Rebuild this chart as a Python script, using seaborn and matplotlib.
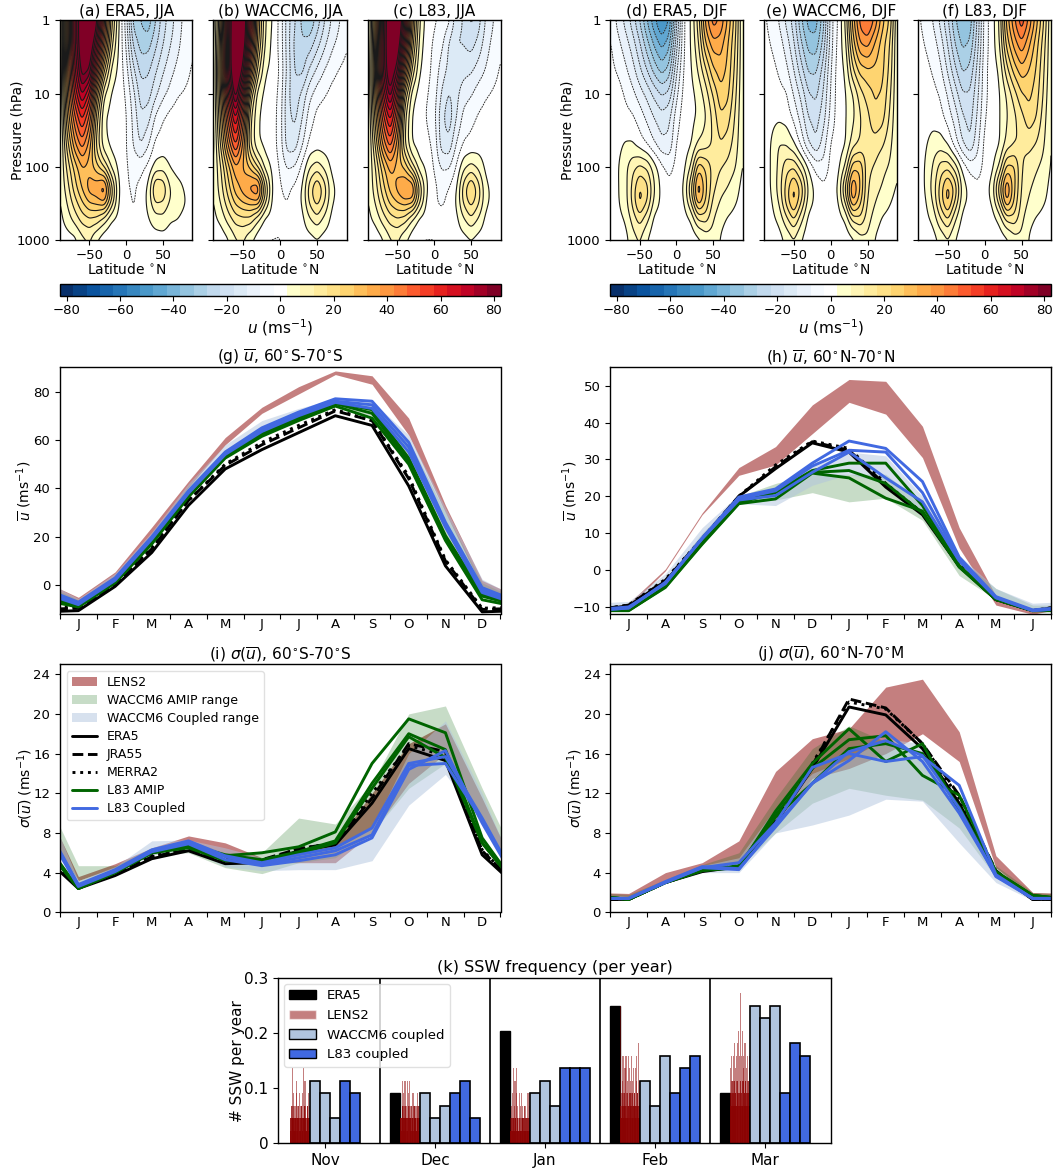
import numpy as np
import matplotlib
matplotlib.use("Agg")
import matplotlib.pyplot as plt
from matplotlib.colors import ListedColormap, BoundaryNorm
from matplotlib.patches import Patch
from matplotlib.cm import ScalarMappable
import seaborn as sns

W, H = 1057, 1169

# ---------- zonal wind tables (rows: pressure, columns: latitude) ----------
lats = [-90,-80,-70,-60,-50,-40,-30,-20,-10,0,10,20,30,40,50,60,70,80,90]
plevs = [1,2,5,10,20,50,100,200,300,500,1000]

era5_jja = [
[0,38,72,92,105,85,50,20,3,-10,-30,-33,-36,-28,-20,-15,-10,-6,-3],
[0,38,72,92,95,72,42,15,2,-8,-24,-30,-30,-24,-18,-13,-9,-5,-3],
[0,36,66,86,82,50,22,6,1,-5,-16,-24,-23,-18,-13,-9,-6,-4,-2],
[0,33,58,74,62,30,8,2,0,-3,-11,-20,-20,-14,-9,-6,-3,-2,-1],
[0,28,47,60,47,20,3,1,0,-2,-9,-17,-15,-7,-3,-1,0,0,0],
[0,20,36,45,35,15,4,1,0,-2,-8,-13,-8,-1,0,0,0,0,0],
[2,14,24,32,30,24,16,6,1,-2,-4,-4,-1,4,5,2,0,0,0],
[3,10,20,28,36,38,45,22,3,-2,-3,-1,4,20,18,8,5,2,0],
[2,8,15,22,28,30,33,17,2,-1,-3,-1,4,13,12,7,5,3,1],
[1,5,10,15,17,16,10,3,1,0,-2,0,2,5,6,3,2.5,1,0],
[0,0,0,5,7,1,-2,-3,-3,-2,-1,0,0,0,0,0,0,0,0]]
waccm_jja = [
[-2,25,70,100,95,62,28,8,2,-4,-15,-22,-29,-32,-26,-18,-12,-8,-4],
[-1,28,72,100,92,58,25,7,1,-4,-15,-24,-27,-26,-20,-14,-9,-6,-3],
[0,30,72,98,80,42,15,3,1,-3,-14,-23,-24,-16,-11,-7,-4,-2,-1],
[0,28,62,88,62,22,5,1,0,-4,-16,-21,-16,-9,-5,-3,-1,0,0],
[0,24,50,70,47,14,3,1,0,-5,-16,-19,-13,-5,-1,0,0,0,0],
[0,18,38,54,36,12,3,1,0,-5,-15,-15,-8,-1,0,0,0,0,0],
[2,12,25,36,32,26,16,5,1,-3,-8,-7,-1,7,10,6,1,0,0],
[3,10,20,30,36,42,46,20,2,-2,-3,-1,3,16,24,16,4,1,0],
[2,8,16,24,28,30,32,14,1,-2,-3,0,3,14,20,13,3,1,0],
[1,4,10,15,16,16,8,1,0,-1,0,0,1,7,11,6,1,0,0],
[0,-1,1,6,7,2,-1,-3,-3,-3,0,0,0,0,1,0,0,0,0]]
l83_jja = [
[-2,28,70,95,100,70,32,8,0,-2,-3,-6,-15,-18,-24,-20,-12,-8,-3],
[-1,30,72,95,93,60,26,6,-1,-3,-6,-13,-18,-18,-20,-16,-10,-6,-3],
[0,32,72,92,78,42,16,3,-1,-4,-10,-14,-15,-14,-13,-10,-7,-4,-2],
[0,30,62,82,60,22,5,0,-2,-5,-13,-18,-14,-10,-8,-5,-3,-2,-1],
[0,25,50,66,46,14,2,0,-3,-6,-16,-21,-13,-6,-4,-2,-1,0,0],
[0,18,38,50,35,12,2,0,-1,-4,-15,-16,-7,-2,-1,0,0,0,0],
[2,12,25,34,30,26,14,4,1,-3,-8,-8,-2,6,9,6,1,0,0],
[3,10,20,29,35,41,42,18,3,-1,-4,-2,2,16,25,16,4,1,0],
[2,8,16,24,28,31,30,14,1,-2,-4,-1,3,14,20,14,4,1,0],
[1,4,10,15,17,15,7,1,0,0,0,0,1,7,12,7,1,0,0],
[0,-1,1,6,7,2,-1,-3,-3,-3,0,0,0,0,1,0,0,0,0]]
era5_djf = [
[-4,-9,-14,-20,-28,-38,-47,-54,-48,-24,-3,3,15,35,46,42,32,20,2],
[-2,-6,-10,-15,-22,-31,-39,-45,-40,-20,-3,3,12,28,36,35,28,18,3],
[-1,-3,-6,-10,-16,-22,-29,-34,-30,-13,-2,2,8,16,26,30,26,16,3],
[0,0,-3,-6,-10,-14,-19,-23,-21,-9,-1,1,4,10,18,26,24,14,3],
[0,0,-1,-2,-5,-9,-13,-16,-14,-5,0,1,3,7,14,22,20,12,3],
[0,1,3,3,0,-3,-7,-11,-11,-2,0,2,8,10,13,17,15,10,3],
[0,2,6,11,14,12,5,-1,-4,-1,1,8,26,22,16,13,11,8,2],
[0,2,5,14,24,20,8,1,-1,0,3,18,38,24,14,9,7,4,1],
[0,2,5,14,25,18,6,1,0,0,2,13,32,22,11,7,5,3,1],
[0,1,3,9,15,9,1,0,0,0,0,3,13,15,8,4,2,1,0],
[0,0,0,5,7,2,-1,-1,-1,-1,-3,-1,0,3,5,2,0,0,0]]
waccm_djf = [
[-2,-4,-8,-14,-20,-32,-40,-40,-30,-10,-2,8,30,45,50,42,30,22,3],
[-1,-3,-5,-10,-17,-27,-35,-36,-26,-10,-1,6,25,38,40,32,25,18,3],
[0,-1,-3,-6,-12,-20,-28,-28,-20,-8,0,3,16,24,26,26,24,16,3],
[0,0,-1,-2,-8,-14,-22,-24,-17,-7,0,2,7,15,20,23,22,14,3],
[0,1,1,0,-4,-10,-18,-20,-15,-6,0,2,6,12,16,22,20,12,3],
[0,3,8,7,3,-4,-12,-17,-10,-2,0,2,10,13,15,15,13,9,3],
[0,3,9,16,17,10,2,-4,-6,-1,1,8,26,27,14,12,9,7,3],
[0,3,10,20,30,22,7,1,-1,0,3,20,40,28,13,9,7,4,2],
[0,2,8,20,30,18,5,1,0,0,2,13,34,24,12,8,5,3,1],
[0,1,4,11,18,9,1,0,0,0,0,3,14,17,10,5,2,1,0],
[0,-1,0,3,6,2,-1,-2,-1,-2,-2,-1,0,4,6,2,0,0,0]]
l83_djf = [
[-2,-4,-8,-14,-22,-32,-38,-36,-22,-5,0,8,30,42,52,42,30,18,3],
[-1,-3,-5,-10,-18,-28,-34,-32,-20,-5,0,7,25,35,42,34,25,15,3],
[0,-1,-3,-6,-13,-21,-28,-26,-16,-4,0,3,15,24,30,27,22,13,3],
[0,0,-1,-3,-8,-15,-22,-22,-14,-4,0,2,8,15,22,24,20,12,2],
[0,0,0,-1,-5,-10,-17,-20,-12,-3,0,2,7,11,16,21,18,10,2],
[0,2,5,5,2,-5,-12,-17,-9,-1,0,2,9,12,13,14,12,8,2],
[0,3,8,15,16,10,1,-4,-5,-1,1,8,24,24,13,10,8,6,2],
[0,3,10,20,31,22,6,1,-1,0,5,22,40,24,12,8,6,4,1],
[0,2,8,20,30,17,4,1,0,0,3,15,34,22,11,7,5,3,1],
[0,1,4,12,18,8,1,0,0,0,0,4,14,16,9,4,2,1,0],
[0,-1,0,3,6,2,-1,-2,-3,-1,-2,-1,0,4,6,2,0,0,0]]

# ---------- seasonal cycles ----------
months_sh = list("JFMAMJJASOND")
months_nh = list("JASONDJFMAMJ")

g_lens_lo = [-7,3,21,40.5,58,71,79,87,83,62,30,-1]
g_lens_hi = [-5,5.5,24,43,61,73.5,82,88.5,86.5,69,33,2]
g_amip_lo = [-8,1.5,18,38,54,63,69,74,70,49,20,-5]
g_amip_hi = [-6,4,21,41,56,65,72,76,74,60,30,1]
g_coup_lo = [-7,2,20,39,54,63,69,75,72,57,25,-3]
g_coup_hi = [-5.5,5,22,42,58,68,73,77,76,62,32,2.5]
g_era5 = [-10.5,-0.5,13.5,33,48,56,63,70,66,41,8,-11]
g_jra55 = [-9.5,0,15,35,49.5,58,65,72,68,44,10,-10]
g_merra2 = [-9,0.5,15.5,35,50,59,66,72.5,68,45,10.5,-9.5]
g_l83amip = [[-9,1,17,36.5,52.5,61.5,68,74,69,50,18.5,-6],
             [-8.5,1.2,17.5,37,53,62,69,75,71,51,19.5,-4.5],
             [-8.5,1.3,18,37.5,53.5,62.5,69.5,75.5,72.5,52.5,20.5,-3.5]]
g_l83coup = [[-8,2,19,38,54,63.5,70,75.5,73,55,24,-3],
             [-7.5,2.5,19.5,38.5,54.5,64,71,76,74.5,57,25,-2],
             [-7,3,20,39,55,65,71.5,77,76,59,26,-1]]

h_lens_lo = [-10,-0.2,15,25.7,28.5,37,45.5,42.3,30.5,6,-9.5,-12]
h_lens_hi = [-9,0.3,15.5,27.8,33.5,44.8,51.7,51.2,39,11.5,-7,-11.3]
h_amip_lo = [-11,-5,7,18,19,21,18.5,19.5,13.5,-1.5,-8,-11.5]
h_amip_hi = [-9.5,-2.5,10,20,23.5,26,26,26,18,3,-5,-9.5]
h_coup_lo = [-10.5,-3.5,8,18,17.5,23,26,23.5,15,1,-7.5,-11]
h_coup_hi = [-8.5,-1,11.5,20.5,22,28,32,31,20,4,-5,-9]
h_era5 = [-9.7,-3,8,20,27.5,34.5,32,22.5,15,1,-8,-11]
h_jra55 = [-9.5,-2.8,8.5,20,28,34.8,32.5,23,15.5,1.2,-8,-11]
h_merra2 = [-9.5,-2.5,8.5,20,28.5,35,33,23.5,15.5,1.5,-8,-11]
h_l83amip = [[-11,-4.7,7,18,19.3,26.3,25,19.5,16,0.8,-8,-11],
             [-11,-4.5,7.2,18.2,21,26.5,27,23.5,15.5,1,-8,-11],
             [-10.5,-4.2,7.5,18.3,21.3,27,29,29,17.5,1.2,-7.8,-11]]
h_l83coup = [[-10.3,-3.3,8.5,19,20.2,26.5,32,25,18.5,2.5,-7.5,-11],
             [-10.3,-3.5,8.5,19.3,21.5,28.2,32.5,32,21,3,-7.5,-11],
             [-10,-3.7,8.7,19.8,22,29,35,33,24,3.5,-7.2,-10.8]]

i_lens_lo = [3.2,4.5,6.2,7,5.8,5,5,5,8,13,16,9]
i_lens_hi = [3.6,4.9,6.5,7.7,7,5.5,6,7,12,17,19,11.5]
i_amip_lo = [2.6,4,5.8,6,4.5,3.9,5,5.5,8,12.5,15,9.5]
i_amip_hi = [4.7,4.7,6.5,7.3,6,6,9.5,8.9,13,20,20.8,12.5]
i_coup_lo = [2.4,3.8,5.8,6.3,4.6,4.2,4.3,4.3,5.2,10.8,13.9,9]
i_coup_hi = [3.2,4.6,7.2,7.3,6.5,5.5,6,6.5,8.5,16,19.3,12]
i_era5 = [2.4,3.7,5.4,6.2,4.9,5,6.2,6.8,11,16.5,15.3,5.8]
i_jra55 = [2.5,3.8,5.6,6.3,5.2,5.3,6.4,7,11.5,17,16.2,6.2]
i_merra2 = [2.5,3.9,5.7,6.3,5.3,5.2,6.4,7,12,16.8,15.8,6.3]
i_l83amip = [[2.4,4,6,6.6,5.7,6,6.6,8.1,15,19.5,18.1,7.5],
             [2.4,4,6,6.8,5.8,5.3,6.1,7.2,13,18,16.4,7],
             [2.4,4,6,6.5,5.2,5.2,5.9,7,12.5,17.7,15.6,7]]
i_l83coup = [[2.6,4.1,6.1,6.9,5.3,4.7,5.2,5.8,7.5,14.4,16.3,9],
             [2.7,4.2,6.2,7,5.6,4.8,5.5,6.2,7.8,14.8,15,9.3],
             [2.8,4.3,6.3,7.2,5.7,5,5.8,6.5,8.5,15,15.7,9.5]]

j_lens_lo = [1.5,3,4.3,5,9,13.5,14.5,16,18,15.2,4.5,1.5]
j_lens_hi = [1.9,4,5,7.2,14.2,17.5,18.5,22.7,23.5,18.2,5.7,2]
j_amip_lo = [1.2,3,4.2,4.5,8,11,12.5,11.8,11.3,8.5,3.5,1.3]
j_amip_hi = [1.8,3.3,4.8,6,11.5,16.5,18.8,17.2,15.5,11,4.7,2]
j_coup_lo = [1.2,2.9,4,4,8,8.8,9.8,11.4,11.2,7,3,1.2]
j_coup_hi = [1.6,3.3,4.7,5.5,10.5,14,15.5,17.5,17,11,4.2,1.8]
j_era5 = [1.3,3,4.1,4.6,9,14.5,20.7,19.9,16.5,11,4,1.3]
j_jra55 = [1.3,3,4.2,4.6,9.2,14.8,21.5,20.6,17,11.8,4.2,1.3]
j_merra2 = [1.3,3,4.2,4.7,9.2,15,21.2,20.5,17,11.5,4.1,1.3]
j_l83amip = [[1.3,3,4.2,4.5,10.2,15,18.5,15.2,17,10.2,4.1,1.7],
             [1.3,3,4.2,4.7,9.8,14.5,17.4,17.8,13.8,11.8,4.1,1.7],
             [1.3,3,4.3,4.6,9.6,13,16.5,17,16,10.6,4,1.7]]
j_l83coup = [[1.4,3,4.5,4.3,8.8,13,15.3,18.2,15.2,10,3.7,1.4],
             [1.4,3,4.5,5,9,14.6,16,15.2,15.7,12.8,3.8,1.4],
             [1.4,3.1,4.6,4.4,8.6,13,16.2,17.3,15.8,10.5,3.6,1.4]]

# ---------- SSW frequency ----------
ssw_months = ["Nov","Dec","Jan","Feb","Mar"]
ssw_era5 = [0,0.0909,0.2045,0.25,0.0909]
ssw_waccm = [[0.1136,0.0909,0.0455],[0.0909,0.0455,0.0682],[0.0909,0.1136,0.0682],
             [0.1136,0.0682,0.1591],[0.25,0.2273,0.25]]
ssw_l83 = [[0.1136,0.0909,0],[0.0909,0.1136,0.0455],[0.1364,0.1364,0.1364],
           [0.0909,0.1364,0.1591],[0.0909,0.1818,0.1591]]
per_event = 1/44
# LENS2 members, counted in events: the taller spikes, then the dense lower ones
lens_nov = [1,2,3,6,2,4,3,2,1,2,4,5,2,3,2,4,2,1,3,3,2,4,6,2,3,5,3,1,2,2,3,4,2,3]
lens_dec = [2,1,2,3,5,2,4,3,5,2,1,3,5,2,4,3,5,3,2,1,4,2,3,4,2,3,2,1,3,2,4,3,2,3]
lens_jan = [1,2,3,2,4,6,2,3,5,2,4,6,3,2,1,4,2,3,1,4,2,3,1,2,3,3,1,2,1,4,2,4,4,3]
lens_feb = [3,11,2,5,7,3,7,4,6,7,3,7,5,4,7,3,6,5,4,7,5,4,3,6,4,3,6,5,7,4,3,8,5,4]
lens_mar = [4,6,7,5,4,7,5,8,4,6,7,5,4,8,9,4,7,12,4,7,9,5,6,7,4,8,5,6,4,7,5,4,6,7]
lens_nov_low = [2,1,2,3,2,2,1,2,3,2,2,1,2,2,3,2,1,2,2,3,2,1,2,2,3,2,2,1,2,3,2,2,1,2]
lens_dec_low = [2,2,1,2,3,2,1,2,2,3,2,2,1,2,3,2,2,2,1,3,2,2,1,2,3,2,2,1,2,2,3,2,1,2]
lens_jan_low = [1,1,2,1,1,2,1,1,2,2,1,1,2,1,1,2,1,1,2,1,1,2,2,1,1,2,1,2,1,1,2,1,2,1]
lens_feb_low = [2,3,2,4,3,2,4,3,2,3,2,4,2,3,3,2,4,3,2,3,4,2,3,2,4,3,2,3,2,4,3,2,3,2]
lens_mar_low = [3,4,3,5,3,4,3,5,3,4,3,3,5,4,3,4,3,5,3,4,3,3,5,3,4,3,5,3,4,3,4,5,3,3]
lens_all = [lens_nov,lens_dec,lens_jan,lens_feb,lens_mar]
lens_low = [lens_nov_low,lens_dec_low,lens_jan_low,lens_feb_low,lens_mar_low]

# ---------- helpers ----------
sns.set_style("ticks")
plt.rcParams.update({"font.family":"DejaVu Sans","font.size":10,"axes.titlesize":11.1,
                     "axes.labelsize":10,"axes.linewidth":1,
                     "xtick.direction":"out","ytick.direction":"out",
                     "xtick.major.size":3.5,"ytick.major.size":3.5,
                     "xtick.major.width":0.8,"ytick.major.width":0.8,
                     "xtick.labelsize":9.5,"ytick.labelsize":9.5,
                     "xtick.color":"black","ytick.color":"black","text.color":"black",
                     "axes.labelcolor":"black","axes.edgecolor":"black",
                     "mathtext.default":"it"})
fig = plt.figure(figsize=(W/100, H/100), dpi=100, facecolor="white")

def box(l, t, r, b):
    return fig.add_axes([l/W, 1-b/H, (r-l)/W, (b-t)/H])

bins = np.arange(-82.5, 83, 5)
cols = [plt.cm.Blues_r(i/15) for i in range(16)] + [(1,1,1,1)] + [plt.cm.YlOrRd(i/15) for i in range(16)]
cmap = ListedColormap(cols)
cmap.set_over(plt.cm.YlOrRd(1.0)); cmap.set_under(plt.cm.Blues(1.0))
norm = BoundaryNorm(bins, cmap.N)

def smooth1(a, n, axis):
    k = np.ones(n)/n
    pad = [(0,0),(0,0)]; pad[axis] = (n//2, n//2)
    b = np.pad(a, pad, mode="edge")
    return np.apply_along_axis(lambda v: np.convolve(v, k, mode="valid"), axis, b)

def refine(table):
    t = np.array(table, float)
    la = np.linspace(-90, 90, 181)
    lp = np.linspace(0, 3, 121)
    lp0 = np.log10(plevs)
    a = np.array([np.interp(la, lats, row) for row in t])
    a = np.array([np.interp(lp, lp0, a[:, j]) for j in range(a.shape[1])]).T
    for _ in range(2):
        a = smooth1(a, 5, 1)
        a = smooth1(a, 9, 0)
    return la, 10**lp, a

def wind_panel(rect, table, title, ylab):
    ax = box(*rect)
    la, pp, f = refine(table)
    ax.contourf(la, pp, f, levels=bins, cmap=cmap, norm=norm, extend="both")
    lv = bins
    ax.contour(la, pp, f, levels=lv[lv < 0], colors="0.15", linewidths=0.65, linestyles=[(0,(2,1))])
    ax.contour(la, pp, f, levels=lv[lv > 0], colors="0.1", linewidths=0.8, linestyles="solid")
    ax.set_yscale("log")
    ax.set_ylim(1000, 1); ax.set_xlim(-90, 90)
    ax.set_xticks([-50, 0, 50]); ax.set_xlabel(r"Latitude $^{\circ}$N", labelpad=-0.5)
    ax.tick_params(axis="x", pad=3)
    ax.set_yticks([1,10,100,1000]); ax.minorticks_off()
    if ylab:
        ax.set_yticklabels(["1","10","100","1000"]); ax.set_ylabel("Pressure (hPa)")
        ax.yaxis.set_label_coords(-36/(rect[2]-rect[0]), 0.5)
    else:
        ax.set_yticklabels([])
    ax.set_title(title, pad=3)

t, b = 20.3, 240.3
wind_panel((60,t,192.3,b), era5_jja, "(a) ERA5, JJA", True)
wind_panel((213.3,t,346.7,b), waccm_jja, "(b) WACCM6, JJA", False)
wind_panel((368,t,500.5,b), l83_jja, "(c) L83, JJA", False)
wind_panel((610.3,t,742.5,b), era5_djf, "(d) ERA5, DJF", True)
wind_panel((764.3,t,897,b), waccm_djf, "(e) WACCM6, DJF", False)
wind_panel((918.3,t,1051,b), l83_djf, "(f) L83, DJF", False)

for l, r in [(60,500.6),(610.3,1051)]:
    cax = box(l,284,r,295.5)
    cb = fig.colorbar(ScalarMappable(norm=norm, cmap=cmap), cax=cax, orientation="horizontal",
                      ticks=np.arange(-80,81,20), spacing="proportional")
    cb.ax.minorticks_off()
    cb.ax.tick_params(pad=2.5)
    cb.set_label(r"$u$ (ms$^{-1}$)", fontsize=11, labelpad=0)

LENS_C, AMIP_C, COUP_C = "darkred", "darkgreen", "#b0c4de"
xm = np.arange(-0.5, 13)

def wrap(v):
    return [v[-1]] + list(v) + [v[0]]

def season_panel(rect, months, lens, amip, coup, era5, jra55, merra2, l83a, l83c, ylim, yt, ylab, ylab_dx, title, legend=False):
    ax = box(*rect)
    ax.fill_between(xm, wrap(lens[0]), wrap(lens[1]), color=LENS_C, alpha=0.5, lw=0, label="LENS2")
    ax.fill_between(xm, wrap(amip[0]), wrap(amip[1]), color=AMIP_C, alpha=0.22, lw=0, label="WACCM6 AMIP range")
    ax.fill_between(xm, wrap(coup[0]), wrap(coup[1]), color=COUP_C, alpha=0.5, lw=0, label="WACCM6 Coupled range")
    sns.lineplot(x=xm, y=wrap(era5), color="k", linewidth=2.1, ax=ax, label="ERA5", legend=False, errorbar=None)
    sns.lineplot(x=xm, y=wrap(jra55), color="k", linewidth=2.1, linestyle="--", ax=ax, label="JRA55", legend=False, errorbar=None)
    sns.lineplot(x=xm, y=wrap(merra2), color="k", linewidth=2.1, linestyle=":", ax=ax, label="MERRA2", legend=False, errorbar=None)
    for n, v in enumerate(l83a):
        sns.lineplot(x=xm, y=wrap(v), color="darkgreen", linewidth=2.1, ax=ax, legend=False, errorbar=None,
                     label="L83 AMIP" if n == 0 else None)
    for n, v in enumerate(l83c):
        sns.lineplot(x=xm, y=wrap(v), color="royalblue", linewidth=2.1, ax=ax, legend=False, errorbar=None,
                     label="L83 Coupled" if n == 0 else None)
    ax.set_xlim(0, 12); ax.set_ylim(*ylim)
    ax.set_xticks(np.arange(13)); ax.set_xticklabels([])
    ax.set_xticks(np.arange(0.5, 12), labels=months, minor=True)
    ax.tick_params(axis="x", which="minor", length=0, pad=2.5)
    ax.tick_params(axis="x", which="major", length=3.5)
    ax.set_yticks(yt)
    ax.set_ylabel(ylab); ax.set_xlabel("")
    ax.yaxis.set_label_coords(-ylab_dx/(rect[2]-rect[0]), 0.5)
    ax.set_title(title, pad=3.5)
    if legend:
        ax.legend(loc="upper left", fontsize=9, framealpha=0.8, borderaxespad=0.55, labelspacing=0.4,
                  edgecolor="0.85")

ub = r"$\overline{u}$ (ms$^{-1}$)"
sb = r"$\sigma(\overline{u})$ (ms$^{-1}$)"
season_panel((60,367.3,500.5,614.3), months_sh, (g_lens_lo,g_lens_hi), (g_amip_lo,g_amip_hi), (g_coup_lo,g_coup_hi),
             g_era5,g_jra55,g_merra2,g_l83amip,g_l83coup,(-12,90),np.arange(0,81,20),ub,26,
             r"(g) $\overline{u}$, 60$^{\circ}$S-70$^{\circ}$S")
season_panel((610.3,367.3,1051,614.3), months_nh, (h_lens_lo,h_lens_hi), (h_amip_lo,h_amip_hi), (h_coup_lo,h_coup_hi),
             h_era5,h_jra55,h_merra2,h_l83amip,h_l83coup,(-12,55),np.arange(-10,51,10),ub,30.6,
             r"(h) $\overline{u}$, 60$^{\circ}$N-70$^{\circ}$N")
season_panel((60,664.3,500.5,912.3), months_sh, (i_lens_lo,i_lens_hi), (i_amip_lo,i_amip_hi), (i_coup_lo,i_coup_hi),
             i_era5,i_jra55,i_merra2,i_l83amip,i_l83coup,(0,25),np.arange(0,25,4),sb,25,
             r"(i) $\sigma(\overline{u})$, 60$^{\circ}$S-70$^{\circ}$S", legend=True)
season_panel((610.3,664.3,1051,912.3), months_nh, (j_lens_lo,j_lens_hi), (j_amip_lo,j_amip_hi), (j_coup_lo,j_coup_hi),
             j_era5,j_jra55,j_merra2,j_l83amip,j_l83coup,(0,25),np.arange(0,25,4),sb,25,
             r"(j) $\sigma(\overline{u})$, 60$^{\circ}$N-70$^{\circ}$M")

# ---------- SSW bars ----------
ax = box(278,978,831,1143.3)
for m in range(5):
    x0 = 11*m
    if ssw_era5[m] > 0:
        ax.bar(x0+0.5, ssw_era5[m], width=1, color="k", edgecolor="k", linewidth=1)
    hi = np.array(lens_all[m]); lo = np.array(lens_low[m])
    pos = np.linspace(x0+1.03, x0+2.97, len(hi))
    ax.bar(pos, hi*per_event, width=0.11, color="darkred", alpha=0.5, linewidth=0)
    ax.bar(pos+0.03, lo*per_event, width=0.11, color="darkred", alpha=0.5, linewidth=0)
    ax.bar(pos-0.02, lo*per_event, width=0.11, color="darkred", alpha=0.5, linewidth=0)
    for i, v in enumerate(ssw_waccm[m]):
        ax.bar(x0+3.5+i, v, width=1, color="lightsteelblue", edgecolor="k", linewidth=1.2)
    for i, v in enumerate(ssw_l83[m]):
        if v > 0:
            ax.bar(x0+6.5+i, v, width=1, color="royalblue", edgecolor="k", linewidth=1.2)
    if m < 4:
        ax.axvline(11*m+10, color="k", lw=1.2)
ax.set_xlim(-0.2, 55.1); ax.set_ylim(0, 0.3)
ax.set_xticks([11*m+4.5 for m in range(5)], labels=ssw_months)
ax.set_yticks([0,0.1,0.2,0.3], labels=["0","0.1","0.2","0.3"])
ax.tick_params(labelsize=11)
ax.set_ylabel("# SSW per year", fontsize=11)
ax.yaxis.set_label_coords(-33/553, 0.5)
ax.set_title("(k) SSW frequency (per year)", fontsize=11.6, pad=4)
ax.legend(handles=[Patch(facecolor="k",edgecolor="k",label="ERA5"),
                   Patch(facecolor="darkred",alpha=0.5,label="LENS2"),
                   Patch(facecolor="lightsteelblue",edgecolor="k",label="WACCM6 coupled"),
                   Patch(facecolor="royalblue",edgecolor="k",label="L83 coupled")],
          loc="upper left", fontsize=9.6, framealpha=0.8, borderaxespad=0.45, edgecolor="0.85",
          labelspacing=0.5)

fig.savefig("out.png", dpi=100)
